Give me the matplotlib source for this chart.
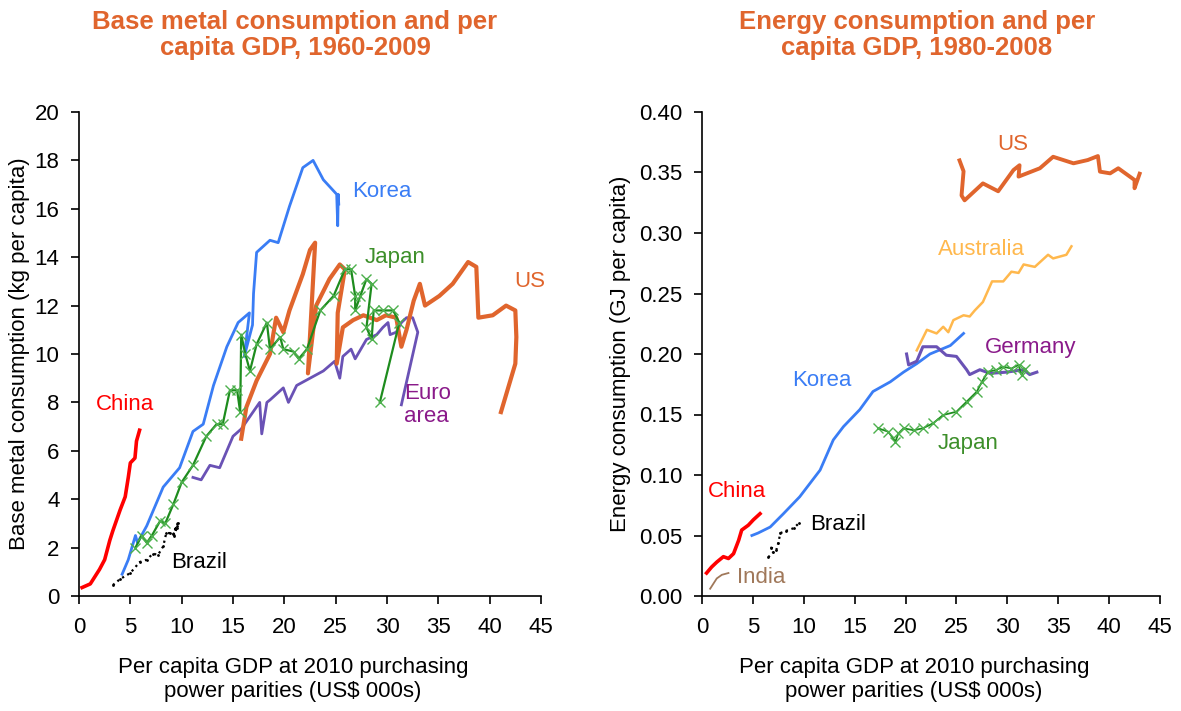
import numpy as np
import matplotlib.pyplot as plt

plt.rcParams['font.family'] = ['Liberation Sans', 'DejaVu Sans']

# ---- left chart: base metal consumption (kg per capita) vs GDP per capita (US$ 000s)
china_x = [0.3, 1.1, 2.0, 2.5, 3.0, 3.3, 4.0, 4.5, 4.8, 5.0, 5.45, 5.6, 5.9]
china_y = [0.35, 0.5, 1.1, 1.5, 2.3, 2.7, 3.55, 4.1, 4.9, 5.5, 5.7, 6.4, 6.85]

korea_x = [4.2, 4.8, 5.5, 5.7, 6.6, 8.2, 9.8, 11.1, 12.1, 13.1, 14.4, 15.5, 16.6, 16.1, 16.9,
           17.0, 17.3, 18.6, 19.4, 20.5, 21.8, 22.8, 23.8, 25.1, 25.2, 25.25, 25.3]
korea_y = [0.9, 1.5, 2.5, 2.2, 2.9, 4.5, 5.3, 6.8, 7.1, 8.7, 10.3, 11.3, 11.7, 9.9, 11.2,
           12.5, 14.2, 14.7, 14.6, 16.1, 17.7, 18.0, 17.2, 16.6, 15.3, 16.6, 16.2]

japan_x = [5.5, 6.1, 6.6, 7.1, 7.9, 8.4, 9.2, 10.0, 11.1, 12.4, 13.4, 14.0, 14.7, 15.4, 15.7,
           15.8, 16.2, 16.65, 17.3, 18.3, 18.6, 19.6, 19.9, 20.9, 21.4, 22.2, 23.5, 24.8,
           25.9, 26.5, 26.9, 26.9, 27.4, 28.0, 28.5, 28.0, 28.5, 28.7, 29.6, 30.6, 31.2, 29.3]
japan_y = [2.0, 2.5, 2.2, 2.5, 3.1, 3.0, 3.8, 4.7, 5.4, 6.6, 7.1, 7.1, 8.5, 8.5, 7.6,
           10.8, 10.0, 9.3, 10.4, 11.3, 10.2, 10.7, 10.2, 10.1, 9.8, 10.2, 11.8, 12.4,
           13.5, 13.5, 12.4, 11.8, 12.4, 13.1, 12.9, 11.1, 10.6, 11.8, 11.8, 11.8, 11.3, 8.0]

us_x = [15.8, 16.3, 17.3, 18.6, 19.2, 19.9, 20.5, 21.8, 22.5, 23.0, 22.3, 23.1, 24.4, 25.4,
        25.9, 25.2, 25.1, 25.7, 26.7, 27.7, 29.0, 29.9, 30.9, 31.4, 31.9, 32.6, 33.2, 33.7,
        35.1, 36.4, 37.9, 38.7, 38.9, 40.3, 41.6, 42.5, 42.6, 42.5, 41.1]
us_y = [6.5, 7.8, 8.9, 10.0, 11.5, 10.9, 11.8, 13.3, 14.3, 14.6, 9.2, 12.0, 13.1, 13.7,
        13.5, 11.7, 9.6, 11.1, 11.4, 11.6, 11.4, 11.6, 11.5, 10.3, 11.0, 12.2, 12.9, 12.0,
        12.4, 12.9, 13.8, 13.6, 11.5, 11.6, 12.0, 11.8, 10.7, 9.6, 7.6]

euro_x = [11.1, 11.9, 12.75, 13.7, 15.0, 15.8, 17.6, 17.8, 18.3, 18.6, 19.9, 20.4, 21.2, 22.5,
          23.8, 24.9, 25.4, 25.7, 26.5, 26.9, 28.0, 29.0, 29.6, 30.1, 30.3, 30.9, 31.4, 31.9,
          32.5, 33.0, 31.4]
euro_y = [4.9, 4.8, 5.4, 5.3, 6.6, 6.9, 8.0, 6.7, 8.0, 8.1, 8.6, 8.0, 8.7, 9.0,
          9.3, 9.7, 9.0, 9.9, 10.2, 9.8, 10.6, 10.8, 11.1, 11.3, 10.8, 10.9, 11.3, 11.5,
          11.5, 10.9, 7.9]

brazil_x = [3.3, 4.0, 5.0, 5.9, 6.6, 7.2, 7.7, 8.2, 8.5, 8.9, 9.3, 9.5, 9.6, 9.2, 9.5]
brazil_y = [0.45, 0.7, 0.95, 1.4, 1.5, 1.75, 1.7, 2.05, 2.6, 2.6, 2.5, 2.8, 3.0, 2.55, 2.9]

# ---- right chart: energy consumption (GJ per capita) vs GDP per capita
e_china_x = [0.45, 0.95, 1.45, 2.1, 2.6, 3.1, 3.6, 3.9, 4.55, 5.05, 5.7]
e_china_y = [0.019, 0.024, 0.028, 0.0325, 0.031, 0.035, 0.046, 0.0545, 0.0585, 0.063, 0.068]

e_india_x = [0.8, 1.45, 1.95, 2.6]
e_india_y = [0.006, 0.0145, 0.0175, 0.019]

e_brazil_x = [6.5, 7.0, 6.8, 7.3, 7.5, 7.7, 8.3, 9.0, 9.5]
e_brazil_y = [0.032, 0.036, 0.040, 0.038, 0.044, 0.052, 0.054, 0.056, 0.060]

e_korea_x = [4.9, 5.5, 6.7, 8.0, 9.6, 11.6, 12.9, 13.9, 15.5, 16.8, 18.5, 19.8, 21.1, 22.4,
             24.4, 25.7]
e_korea_y = [0.050, 0.052, 0.057, 0.068, 0.082, 0.104, 0.129, 0.140, 0.154, 0.169, 0.177,
             0.185, 0.192, 0.200, 0.207, 0.217]

e_germany_x = [20.1, 20.3, 21.1, 21.7, 23.05, 24.0, 25.0, 26.0, 26.3, 27.3, 28.3, 29.9, 31.6,
               32.2, 32.9]
e_germany_y = [0.200, 0.191, 0.194, 0.206, 0.206, 0.199, 0.198, 0.187, 0.183, 0.187, 0.184,
               0.185, 0.187, 0.183, 0.185]

e_australia_x = [21.1, 22.1, 23.05, 23.7, 24.2, 24.7, 25.7, 26.3, 26.8, 27.6, 28.5, 29.6, 30.4,
                 31.1, 31.6, 32.7, 34.0, 34.5, 35.8, 36.3]
e_australia_y = [0.203, 0.220, 0.217, 0.2225, 0.218, 0.228, 0.232, 0.231, 0.236, 0.243, 0.260,
                 0.260, 0.268, 0.267, 0.274, 0.272, 0.282, 0.279, 0.282, 0.289]

e_us_x = [25.3, 25.7, 25.5, 25.8, 27.6, 29.1, 30.6, 31.2, 31.1, 33.2, 34.5, 36.5, 37.9, 38.9,
          39.1, 40.1, 40.9, 42.5, 42.5, 43.0]
e_us_y = [0.360, 0.351, 0.331, 0.327, 0.341, 0.3345, 0.352, 0.356, 0.3466, 0.3535, 0.363,
          0.3576, 0.3603, 0.3636, 0.3507, 0.3493, 0.3535, 0.3438, 0.337, 0.349]

e_japan_x = [17.3, 18.3, 19.0, 19.3, 19.8, 20.8, 21.7, 22.7, 23.7, 25.0, 26.0, 27.0, 27.5, 28.1,
             28.9, 29.6, 30.4, 31.1, 31.4, 31.7]
e_japan_y = [0.1386, 0.1358, 0.1276, 0.1344, 0.1386, 0.137, 0.1386, 0.1427, 0.1496, 0.1523,
             0.1606, 0.1689, 0.177, 0.1854, 0.1868, 0.1895, 0.188, 0.191, 0.1826, 0.188]

ORANGE = '#E0652D'
BLUE = '#3A7DF5'
GREEN = '#1E8C1E'
XGREEN = '#4DB04D'
PURPLE = '#6A52B5'
LABEL_PURPLE = '#8A1A8A'
FS = 16

fig = plt.figure(figsize=(11.81, 7.11), dpi=100)
ax1 = fig.add_axes([79 / 1181, 1 - 596 / 711, 462 / 1181, 484 / 711])
ax2 = fig.add_axes([702 / 1181, 1 - 596 / 711, 458 / 1181, 484 / 711])

# left
ax1.plot(china_x, china_y, color='#FF0000', lw=2.6)
ax1.plot(brazil_x, brazil_y, color='black', lw=1.6, ls=':', marker='.', ms=2)
ax1.plot(euro_x, euro_y, color=PURPLE, lw=2.0)
ax1.plot(us_x, us_y, color=ORANGE, lw=3.0)
ax1.plot(korea_x, korea_y, color=BLUE, lw=2.0)
ax1.plot(japan_x, japan_y, color=GREEN, lw=1.6, marker='x', ms=6.5, mec=XGREEN, mew=1.0)

ax1.text(4.5, 7.9, 'China', color='#FF0000', fontsize=FS, ha='center', va='center')
ax1.text(26.6, 16.7, 'Korea', color=BLUE, fontsize=FS, va='center')
ax1.text(27.8, 14.0, 'Japan', color='#3D8F2A', fontsize=FS, va='center')
ax1.text(42.4, 13.0, 'US', color=ORANGE, fontsize=FS, va='center')
ax1.text(31.7, 7.9, 'Euro\narea', color=LABEL_PURPLE, fontsize=FS, va='center', linespacing=1.15)
ax1.text(9.0, 1.4, 'Brazil', color='black', fontsize=FS, va='center')

ax1.set_xlim(0, 45)
ax1.set_ylim(0, 20)
ax1.set_xticks(np.arange(0, 46, 5))
ax1.set_yticks(np.arange(0, 21, 2))
ax1.set_ylabel('Base metal consumption (kg per capita)', fontsize=FS)
ax1.set_xlabel('Per capita GDP at 2010 purchasing\npower parities (US$ 000s)', fontsize=FS,
               linespacing=1.25)

# right
ax2.plot(e_india_x, e_india_y, color='#A0785A', lw=1.3)
ax2.plot(e_china_x, e_china_y, color='#FF0000', lw=2.6)
ax2.plot(e_brazil_x, e_brazil_y, color='black', lw=1.6, ls=':', marker='.', ms=2)
ax2.plot(e_korea_x, e_korea_y, color=BLUE, lw=2.0)
ax2.plot(e_australia_x, e_australia_y, color='#FFB84D', lw=1.8)
ax2.plot(e_germany_x, e_germany_y, color=PURPLE, lw=2.2)
ax2.plot(e_japan_x, e_japan_y, color=GREEN, lw=1.3, marker='x', ms=6.5, mec=XGREEN, mew=1.0)
ax2.plot(e_us_x, e_us_y, color=ORANGE, lw=2.8)

ax2.text(3.4, 0.086, 'China', color='#FF0000', fontsize=FS, ha='center', va='center')
ax2.text(3.4, 0.015, 'India', color='#A0785A', fontsize=FS, va='center')
ax2.text(10.6, 0.059, 'Brazil', color='black', fontsize=FS, va='center')
ax2.text(8.9, 0.178, 'Korea', color=BLUE, fontsize=FS, va='center')
ax2.text(23.2, 0.126, 'Japan', color='#3D8F2A', fontsize=FS, va='center')
ax2.text(27.8, 0.205, 'Germany', color=LABEL_PURPLE, fontsize=FS, va='center')
ax2.text(23.2, 0.286, 'Australia', color='#FFB84D', fontsize=FS, va='center')
ax2.text(29.0, 0.373, 'US', color=ORANGE, fontsize=FS, va='center')

ax2.set_xlim(0, 45)
ax2.set_ylim(0, 0.40)
ax2.set_xticks(np.arange(0, 46, 5))
ax2.set_yticks(np.arange(0, 0.401, 0.05))
ax2.yaxis.set_major_formatter(plt.FormatStrFormatter('%.2f'))
ax2.set_ylabel('Energy consumption (GJ per capita)', fontsize=FS)
ax2.set_xlabel('Per capita GDP at 2010 purchasing\npower parities (US$ 000s)', fontsize=FS,
               linespacing=1.25)

for ax in (ax1, ax2):
    ax.spines['top'].set_visible(False)
    ax.spines['right'].set_visible(False)
    ax.spines['left'].set_linewidth(1.2)
    ax.spines['bottom'].set_linewidth(1.2)
    ax.tick_params(direction='out', length=6, width=1.2, labelsize=FS)
    ax.tick_params(axis='x', pad=9)
    ax.tick_params(axis='y', pad=8)
    ax.xaxis.set_label_coords(0.463, -0.125)

ax1.yaxis.set_label_coords(-0.105, 0.5)
ax2.yaxis.set_label_coords(-0.155, 0.5)

fig.text(295 / 1181, 1 - 35 / 711, 'Base metal consumption and per\ncapita GDP, 1960-2009',
         color=ORANGE, fontsize=18.5, fontweight='bold', ha='center', va='center', linespacing=1.15)
fig.text(917 / 1181, 1 - 35 / 711, 'Energy consumption and per\ncapita GDP, 1980-2008',
         color=ORANGE, fontsize=18.5, fontweight='bold', ha='center', va='center', linespacing=1.15)

fig.savefig('out.png', dpi=100)
